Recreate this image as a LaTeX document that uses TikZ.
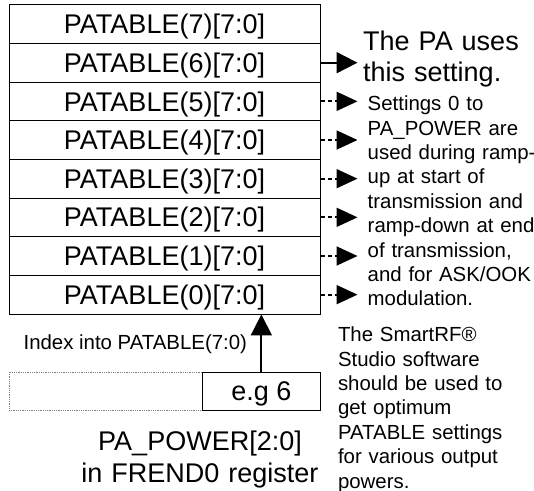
\documentclass[tikz,border=0pt]{standalone}
\usepackage{fontspec}
\setmainfont{Liberation Sans}
\usetikzlibrary{arrows.meta}
\newcommand\bigtxt{\fontsize{27}{31.7}\selectfont}
\newcommand\smalltxt{\fontsize{20.4}{24.4}\selectfont}
\begin{document}
\begin{tikzpicture}[x=1pt,y=-1pt,
  rowbox/.style={draw, line width=0.9pt, minimum width=311pt, minimum height=38.66pt,
    inner sep=0pt, font=\bigtxt, text height=19.3pt, text depth=0pt},
  solidarrow/.style={line width=1.8pt, -{Triangle[length=21pt,width=21pt]}},
  dasharrow/.style={line width=1.8pt, dash pattern=on 4.5pt off 3pt,
    -{Triangle[length=21pt,width=19pt]}},
  label/.style={inner sep=0pt, align=left, text width=200pt}]
\fill[white] (0,0) rectangle (534,490);
\useasboundingbox (0,0) rectangle (534,490);
% PATABLE rows
\foreach \k [evaluate=\k as \yc using {4.7+(7.5-\k)*38.66}] in {7,...,0}
  \node[rowbox] (r\k) at (164.5,\yc) {PATABLE(\k)[7:0]};
% x position of the arrow tips
\coordinate (tipx) at (357.5,0);
\draw[solidarrow] (r6.east) -- (r6.east -| tipx);
\foreach \k in {5,...,0}
  \draw[dasharrow] (r\k.east) -- (r\k.east -| tipx);
% right-hand texts
\node[label, anchor=base west, font=\bigtxt] (uses) at (363,50) {The PA uses\\this setting.};
\node[label, anchor=base west, font=\smalltxt] (ramp) at (367.5,110.7)
  {Settings 0 to\\PA\_POWER are\\used during ramp-\\up at start of\\transmission and\\ramp-down at end\\of transmission,\\and for ASK/OOK\\modulation.};
\node[label, anchor=base west, font=\smalltxt] (smart) at (337.8,341.7)
  {The SmartRF®\\Studio software\\should be used to\\get optimum\\PATABLE settings\\for various output\\powers.};
% register
\node[draw=gray, densely dotted, line width=0.8pt, minimum width=193.7pt,
  minimum height=37.7pt, inner sep=0pt] (reg) at (105.85,391.15) {};
\node[draw, line width=0.9pt, minimum width=117.3pt, minimum height=37.7pt,
  inner sep=0pt, font=\bigtxt, text height=19.3pt, text depth=0pt] (eg) at (261.35,391.15) {e.g 6};
\draw[solidarrow] (eg.north) -- (eg.north |- r0.south);
\node[anchor=base, inner sep=0pt, font=\smalltxt] (idx) at (135.3,349.3) {Index into PATABLE(7:0)};
\node[anchor=base, inner sep=0pt, font=\bigtxt, text width=280pt, align=center] (pap) at (200,450.7)
  {PA\_POWER[2:0]\\in FREND0 register};
\end{tikzpicture}
\end{document}
